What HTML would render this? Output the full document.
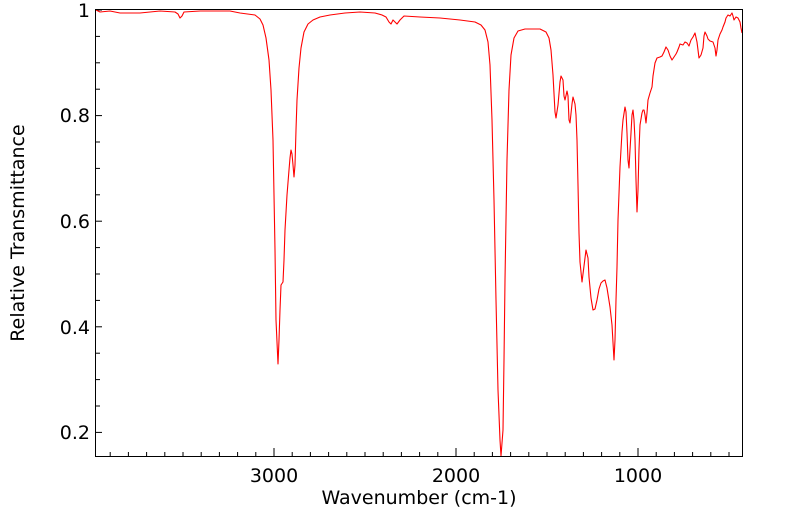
<!DOCTYPE html>
<html><head><meta charset="utf-8"><style>body{margin:0;background:#fff}svg{display:block}text{font-family:"DejaVu Sans","Liberation Sans",sans-serif;fill:#000}</style></head><body>
<svg width="799" height="516" viewBox="0 0 799 516" xmlns="http://www.w3.org/2000/svg">
<g stroke="#000" stroke-width="1">
<line x1="96" y1="10" x2="102" y2="10"/><line x1="96" y1="36.4" x2="100" y2="36.4"/><line x1="96" y1="62.8" x2="100" y2="62.8"/><line x1="96" y1="89.2" x2="100" y2="89.2"/>
<line x1="96" y1="115.6" x2="102" y2="115.6"/><line x1="96" y1="142" x2="100" y2="142"/><line x1="96" y1="168.4" x2="100" y2="168.4"/><line x1="96" y1="194.8" x2="100" y2="194.8"/>
<line x1="96" y1="221.2" x2="102" y2="221.2"/><line x1="96" y1="247.6" x2="100" y2="247.6"/><line x1="96" y1="274" x2="100" y2="274"/><line x1="96" y1="300.4" x2="100" y2="300.4"/>
<line x1="96" y1="326.8" x2="102" y2="326.8"/><line x1="96" y1="353.2" x2="100" y2="353.2"/><line x1="96" y1="379.6" x2="100" y2="379.6"/><line x1="96" y1="406" x2="100" y2="406"/>
<line x1="96" y1="432.4" x2="102" y2="432.4"/>
<line x1="110.2" y1="456" x2="110.2" y2="452"/><line x1="128.4" y1="456" x2="128.4" y2="452"/><line x1="146.6" y1="456" x2="146.6" y2="452"/><line x1="164.8" y1="456" x2="164.8" y2="452"/><line x1="183" y1="456" x2="183" y2="452"/><line x1="201.2" y1="456" x2="201.2" y2="452"/><line x1="219.4" y1="456" x2="219.4" y2="452"/><line x1="237.6" y1="456" x2="237.6" y2="452"/><line x1="255.8" y1="456" x2="255.8" y2="452"/>
<line x1="274" y1="456" x2="274" y2="448"/>
<line x1="292.2" y1="456" x2="292.2" y2="452"/><line x1="310.4" y1="456" x2="310.4" y2="452"/><line x1="328.6" y1="456" x2="328.6" y2="452"/><line x1="346.8" y1="456" x2="346.8" y2="452"/><line x1="365" y1="456" x2="365" y2="452"/><line x1="383.2" y1="456" x2="383.2" y2="452"/><line x1="401.4" y1="456" x2="401.4" y2="452"/><line x1="419.6" y1="456" x2="419.6" y2="452"/><line x1="437.8" y1="456" x2="437.8" y2="452"/>
<line x1="456" y1="456" x2="456" y2="448"/>
<line x1="474.2" y1="456" x2="474.2" y2="452"/><line x1="492.4" y1="456" x2="492.4" y2="452"/><line x1="510.6" y1="456" x2="510.6" y2="452"/><line x1="528.8" y1="456" x2="528.8" y2="452"/><line x1="547" y1="456" x2="547" y2="452"/><line x1="565.2" y1="456" x2="565.2" y2="452"/><line x1="583.4" y1="456" x2="583.4" y2="452"/><line x1="601.6" y1="456" x2="601.6" y2="452"/><line x1="619.8" y1="456" x2="619.8" y2="452"/>
<line x1="638" y1="456" x2="638" y2="448"/>
<line x1="656.2" y1="456" x2="656.2" y2="452"/><line x1="674.4" y1="456" x2="674.4" y2="452"/><line x1="692.6" y1="456" x2="692.6" y2="452"/><line x1="710.8" y1="456" x2="710.8" y2="452"/><line x1="729" y1="456" x2="729" y2="452"/>
</g>
<polyline fill="none" stroke="#ff0000" stroke-width="1.1" stroke-linejoin="round" points="96,10 100,12 110,11 120,13 140,13 150,12 160,11 175,12 178,14 180,18 182,16 184,12 200,11 230,11 240,13 255,15 260,19 263,25 266,38 269,60 271,90 273,140 275,250 276,320 278,364 279,340 280,310 281,285 283,282 284,260 285,230 287,195 289,170 290,158 291,150 292,154 293,165 294,177 295,165 296,130 297,100 299,68 301,48 304,32 308,24 313,20 320,17 330,15 345,13 360,12 375,13 382,15 386,17 389,22 391,24 393,20 395,22 397,24 400,20 404,16 420,17 440,18 460,20 475,22 481,25 485,30 488,42 490,65 492,120 494,200 496,300 498,390 500,440 501,456 503,430 504,360 505,280 507,160 509,90 511,55 514,38 518,31 525,29 540,29 546,32 549,38 551,50 553,75 555,112 556,118 558,105 560,82 561,76 563,80 564,96 565,100 567,91 568,96 569,120 570,123 572,104 573,97 575,104 576,115 577,140 578,185 579,233 580,262 582,282 584,266 586,250 588,258 589,277 591,298 593,310 595,309 597,300 599,289 601,283 603,281 605,280 607,288 610,307 612,325 614,360 615,340 616,300 617,267 618,220 620,167 622,132 623,120 625,107 626,112 627,133 628,160 629,168 630,150 631,133 632,115 633,110 634,120 635,140 636,180 637,212 638,190 639,150 640,125 642,113 643,110 644,110 645,115 646,123 647,113 648,100 650,93 652,87 653,76 655,63 657,58 660,57 662,56 664,52 666,47 668,50 670,56 672,60 674,57 676,54 677,52 679,47 680,44 683,45 685,42 687,43 689,46 691,40 693,37 695,33 697,42 699,58 701,55 703,48 704,36 705,32 707,36 708,39 710,41 713,42 715,48 716,56 717,50 718,40 720,34 722,30 723,27 725,22 726,18 728,15 730,16 732,13 733,16 734,20 736,17 738,18 740,22 741,28 742,33"/>
<rect x="95.5" y="9.5" width="647" height="447" fill="none" stroke="#000" stroke-width="1"/>
<g font-size="19">
<text x="90" y="17" text-anchor="end">1</text>
<text x="90" y="122" text-anchor="end">0.8</text>
<text x="90" y="228" text-anchor="end">0.6</text>
<text x="90" y="334" text-anchor="end">0.4</text>
<text x="90" y="439" text-anchor="end">0.2</text>
<text x="274" y="482" text-anchor="middle">3000</text>
<text x="456" y="482" text-anchor="middle">2000</text>
<text x="638" y="482" text-anchor="middle">1000</text>
<text x="419" y="504" text-anchor="middle">Wavenumber (cm-1)</text>
<text transform="translate(24,233) rotate(-90)" text-anchor="middle">Relative Transmittance</text>
</g>
</svg>
</body></html>
